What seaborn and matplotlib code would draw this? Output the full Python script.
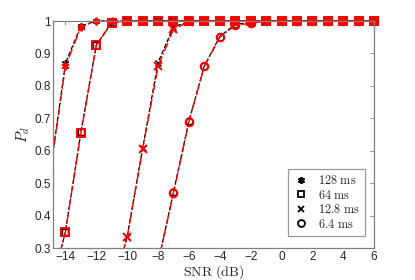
"""Detection probability vs SNR for several integration times."""

import matplotlib
matplotlib.use("Agg")
import matplotlib.pyplot as plt
import numpy as np
import seaborn as sns
from matplotlib.lines import Line2D
from matplotlib.patches import Rectangle

# SNR grid (dB)
snr = [-15, -14, -13, -12, -11, -10, -9, -8, -7, -6, -5, -4, -3, -2, -1,
       0, 1, 2, 3, 4, 5, 6]

# theory (black) and simulation (red) curves
pd_128_th = [0.53, 0.87, 0.985, 1.0, 1.0, 1.0, 1.0, 1.0, 1.0, 1.0, 1.0,
             1.0, 1.0, 1.0, 1.0, 1.0, 1.0, 1.0, 1.0, 1.0, 1.0, 1.0]
pd_128_sim = [0.53, 0.86, 0.982, 1.0, 1.0, 1.0, 1.0, 1.0, 1.0, 1.0, 1.0,
              1.0, 1.0, 1.0, 1.0, 1.0, 1.0, 1.0, 1.0, 1.0, 1.0, 1.0]
pd_64_th = [0.17, 0.35, 0.657, 0.926, 0.996, 1.0, 1.0, 1.0, 1.0, 1.0, 1.0,
            1.0, 1.0, 1.0, 1.0, 1.0, 1.0, 1.0, 1.0, 1.0, 1.0, 1.0]
pd_64_sim = [0.17, 0.35, 0.655, 0.925, 0.995, 1.0, 1.0, 1.0, 1.0, 1.0, 1.0,
             1.0, 1.0, 1.0, 1.0, 1.0, 1.0, 1.0, 1.0, 1.0, 1.0, 1.0]
pd_12_th = [0.0, 0.02, 0.05, 0.09, 0.16, 0.335, 0.607, 0.872, 0.982, 0.998,
            1.0, 1.0, 1.0, 1.0, 1.0, 1.0, 1.0, 1.0, 1.0, 1.0, 1.0, 1.0]
pd_12_sim = [0.0, 0.02, 0.05, 0.09, 0.16, 0.335, 0.605, 0.86, 0.975, 0.997,
             1.0, 1.0, 1.0, 1.0, 1.0, 1.0, 1.0, 1.0, 1.0, 1.0, 1.0, 1.0]
pd_6_th = [0.0, 0.0, 0.01, 0.02, 0.04, 0.08, 0.12, 0.255, 0.472, 0.692,
           0.862, 0.952, 0.99, 0.995, 1.0, 1.0, 1.0, 1.0, 1.0, 1.0, 1.0, 1.0]
pd_6_sim = [0.0, 0.0, 0.01, 0.02, 0.04, 0.08, 0.12, 0.255, 0.47, 0.69,
            0.86, 0.95, 0.987, 0.993, 1.0, 1.0, 1.0, 1.0, 1.0, 1.0, 1.0, 1.0]

labels = ["128 ms", "64 ms", "12.8 ms", "6.4 ms"]
markers = [(6, 2, 0), "s", "x", "o"]

sns.set_style("white")
plt.rcParams["mathtext.fontset"] = "cm"
plt.rcParams["font.family"] = ["Liberation Sans", "DejaVu Sans"]

fig = plt.figure(figsize=(4.15, 2.8), dpi=100)
ax = fig.add_axes([0.128, 0.114, 0.7735, 0.811])

theory = [pd_128_th, pd_64_th, pd_12_th, pd_6_th]
sim = [pd_128_sim, pd_64_sim, pd_12_sim, pd_6_sim]

for th, mk in zip(theory, markers):
    sns.lineplot(x=snr, y=th, ax=ax, color="black", linestyle="--", lw=0.9,
                 marker=mk, markersize=5, markerfacecolor="none",
                 markeredgecolor="black", markeredgewidth=1.0)
for sm, mk in zip(sim, markers):
    sns.lineplot(x=snr, y=sm, ax=ax, color="red", linestyle="-.", lw=1.0,
                 marker=mk, markersize=5.5, markerfacecolor="none",
                 markeredgecolor="red", markeredgewidth=1.4)

# let markers sitting on the top/right frame show whole, as in MATLAB
clip = Rectangle((0, 0), 1.04, 1.05, transform=ax.transAxes, visible=False)
ax.add_patch(clip)
for ln in ax.lines:
    ln.set_clip_path(clip)

ax.set_xlim(-14.8, 6)
ax.set_ylim(0.3, 1.0)
ax.set_xticks(np.arange(-14, 7, 2))
ax.set_yticks(np.arange(0.3, 1.01, 0.1))
ax.set_xticklabels([f"\u2212{abs(v)}" if v < 0 else str(v) for v in range(-14, 7, 2)])
ax.set_yticklabels(["0.3", "0.4", "0.5", "0.6", "0.7", "0.8", "0.9", "1"])
ax.tick_params(direction="in", length=3, width=0.6, color="#808080",
               labelsize=8.5, top=True, right=True, pad=2)
ax.tick_params(axis="y", pad=1.5)
for s in ax.spines.values():
    s.set_color("#808080")
    s.set_linewidth(0.9)

ax.set_xlabel(r"$\mathrm{SNR\ (dB)}$", fontsize=10, labelpad=0)
ax.set_ylabel(r"$P_d$", fontsize=11)
ax.yaxis.set_label_coords(-0.065, 0.5)

handles = [Line2D([], [], color="black", linestyle="none", marker=mk,
                  markersize=5, markerfacecolor="none", markeredgewidth=1.3)
           for mk in markers]
leg = ax.legend(handles, [rf"$\mathrm{{{l.replace(' ', r'\ ')}}}$" for l in labels],
                loc="lower right", bbox_to_anchor=(0.972, 0.053), borderaxespad=0,
                fontsize=8.8, frameon=True, fancybox=False, handlelength=1.2,
                handletextpad=0.8, borderpad=0.45, labelspacing=0.12)
leg.get_frame().set_edgecolor("#808080")
leg.get_frame().set_linewidth(0.9)

fig.savefig("out.png", dpi=100)
